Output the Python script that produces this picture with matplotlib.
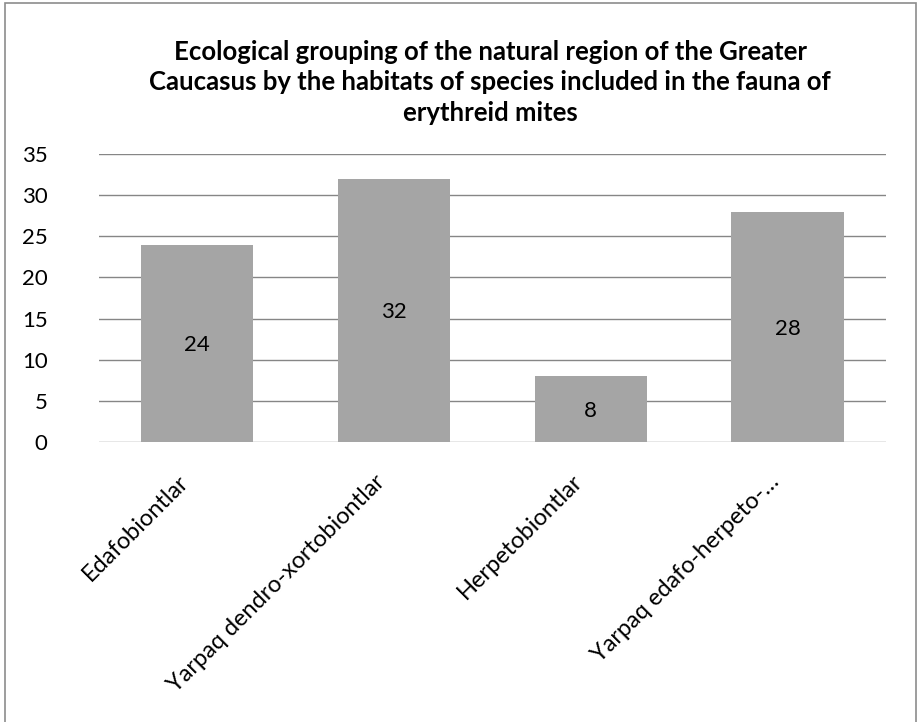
import matplotlib.pyplot as plt
from matplotlib.patches import Rectangle
from matplotlib.transforms import ScaledTranslation

plt.rcParams['font.family'] = ['Lato', 'DejaVu Sans']

categories = ['Edafobiontlar', 'Yarpaq dendro-xortobiontlar', 'Herpetobiontlar',
              'Yarpaq edafo-herpeto-…']
values = [24, 32, 8, 28]
yticks = [0, 5, 10, 15, 20, 25, 30, 35]
title = ('Ecological grouping of the natural region of the Greater\n'
         'Caucasus by the habitats of species included in the fauna of\n'
         'erythreid mites')

fig = plt.figure(figsize=(9.18, 7.22), dpi=100)
ax = fig.add_axes([0.1078, 0.3878, 0.8572, 0.3989])

# chart frame
fig.patches.append(Rectangle((5 / 918, -0.05), 911 / 918, 1 - 3 / 722 + 0.05,
                             transform=fig.transFigure, fill=False,
                             edgecolor='#8c8c8c', linewidth=1.2))

x = range(len(categories))
bars = ax.bar(x, values, width=0.57, color='#a5a5a5', zorder=2)
for b, v in zip(bars, values):
    ax.text(b.get_x() + b.get_width() / 2, v / 2, str(v), ha='center',
            va='center_baseline', fontsize=16, zorder=3)

ax.set_xlim(-0.5, len(categories) - 0.5)
ax.set_ylim(0, 35)
ax.set_yticks(yticks)
ax.yaxis.grid(True, color='#868686', linewidth=1, zorder=1)
ax.set_axisbelow(True)
for s in ax.spines.values():
    s.set_visible(False)
ax.tick_params(axis='y', length=0, labelsize=16, pad=37)
ax.tick_params(axis='x', length=0, labelsize=17, pad=26)
ax.set_xticks(list(x))
ax.set_xticklabels(categories, rotation=45, ha='right', va='center',
                   rotation_mode='anchor')
shift = ScaledTranslation(-12 / 100, 0, fig.dpi_scale_trans)
for lbl in ax.get_xticklabels():
    lbl.set_transform(lbl.get_transform() + shift)

fig.text(0.534, 0.945, title, ha='center', va='top', fontsize=18.5,
         fontweight='bold', linespacing=1.32)

fig.savefig('out.png', dpi=100)
